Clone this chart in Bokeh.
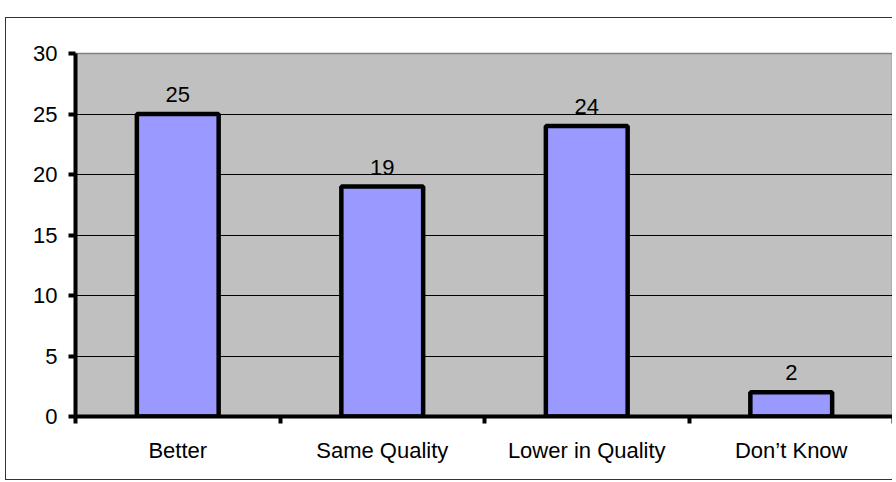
from bokeh.plotting import figure
from bokeh.models import (ColumnDataSource, Range1d, LinearAxis,
                          FixedTicker, CustomJSTickFormatter)
from bokeh.core.properties import value
from bokeh.embed import file_html
from bokeh.resources import INLINE

categories = ["Better", "Same Quality", "Lower in Quality", "Don\u2019t Know"]
counts = [25, 19, 24, 2]
y_ticks = [0, 5, 10, 15, 20, 25, 30]

FONT = "Liberation Sans"
n = len(categories)
xpos = [i + 0.5 for i in range(n)]

src = ColumnDataSource(data=dict(x=xpos, cat=categories, val=counts,
                                 lab=[str(v) for v in counts]))

p = figure(width=887, height=463, output_backend="svg", toolbar_location=None,
           x_range=Range1d(0, n), y_range=Range1d(0, 30), x_axis_location=None,
           min_border_left=69, min_border_right=0, min_border_top=35,
           min_border_bottom=65)
p.margin = (17, 0, 0, 5)
p.styles = {"border-top": "1px solid #333333", "border-left": "1px solid #333333",
            "border-bottom": "1px solid #333333", "box-sizing": "border-box"}

p.background_fill_color = "#C0C0C0"
p.border_fill_color = "white"
p.outline_line_color = "#808080"
p.outline_line_width = 1.5
p.xgrid.grid_line_color = None

# boundary tick axis
bx = LinearAxis(ticker=FixedTicker(ticks=list(range(n + 1)), minor_ticks=[]),
                formatter=CustomJSTickFormatter(code="return '';"))
bx.axis_line_width = 4
bx.axis_line_color = "black"
bx.major_tick_line_width = 4
bx.major_tick_out = 7
bx.major_tick_in = 0
bx.major_label_standoff = 0
p.add_layout(bx, "below")

cx = LinearAxis(ticker=FixedTicker(ticks=xpos, minor_ticks=[]),
                formatter=CustomJSTickFormatter(args=dict(labels=categories),
                                                code="return labels[Math.floor(tick)] || '';"))
cx.axis_line_color = None
cx.major_tick_line_color = None
cx.minor_tick_line_color = None
cx.major_label_standoff = 8
cx.major_label_text_font = FONT
cx.major_label_text_font_size = "22px"
cx.major_label_text_color = "black"
p.add_layout(cx, "below")

ya = p.yaxis[0]
ya.ticker = FixedTicker(ticks=y_ticks, minor_ticks=[])
ya.axis_line_width = 4
ya.axis_line_color = "black"
ya.major_tick_line_width = 4
ya.major_tick_out = 7
ya.major_tick_in = 0
ya.major_label_standoff = 11
ya.major_label_text_font = FONT
ya.major_label_text_font_size = "22px"
ya.major_label_text_color = "black"

p.ygrid.grid_line_color = "black"
p.ygrid.grid_line_width = 1
p.ygrid.ticker = FixedTicker(ticks=y_ticks[1:-1])

p.vbar(x="x", top="val", width=0.4, bottom=0, source=src,
       fill_color="#9999FF", line_color="black", line_width=4.5)

p.text(x="x", y="val", text="lab", source=src, text_align="center",
       text_baseline="bottom", y_offset=-12, text_font=value(FONT),
       text_font_size="22px", text_color="black")

open("out.html", "w").write(file_html(p, INLINE))
